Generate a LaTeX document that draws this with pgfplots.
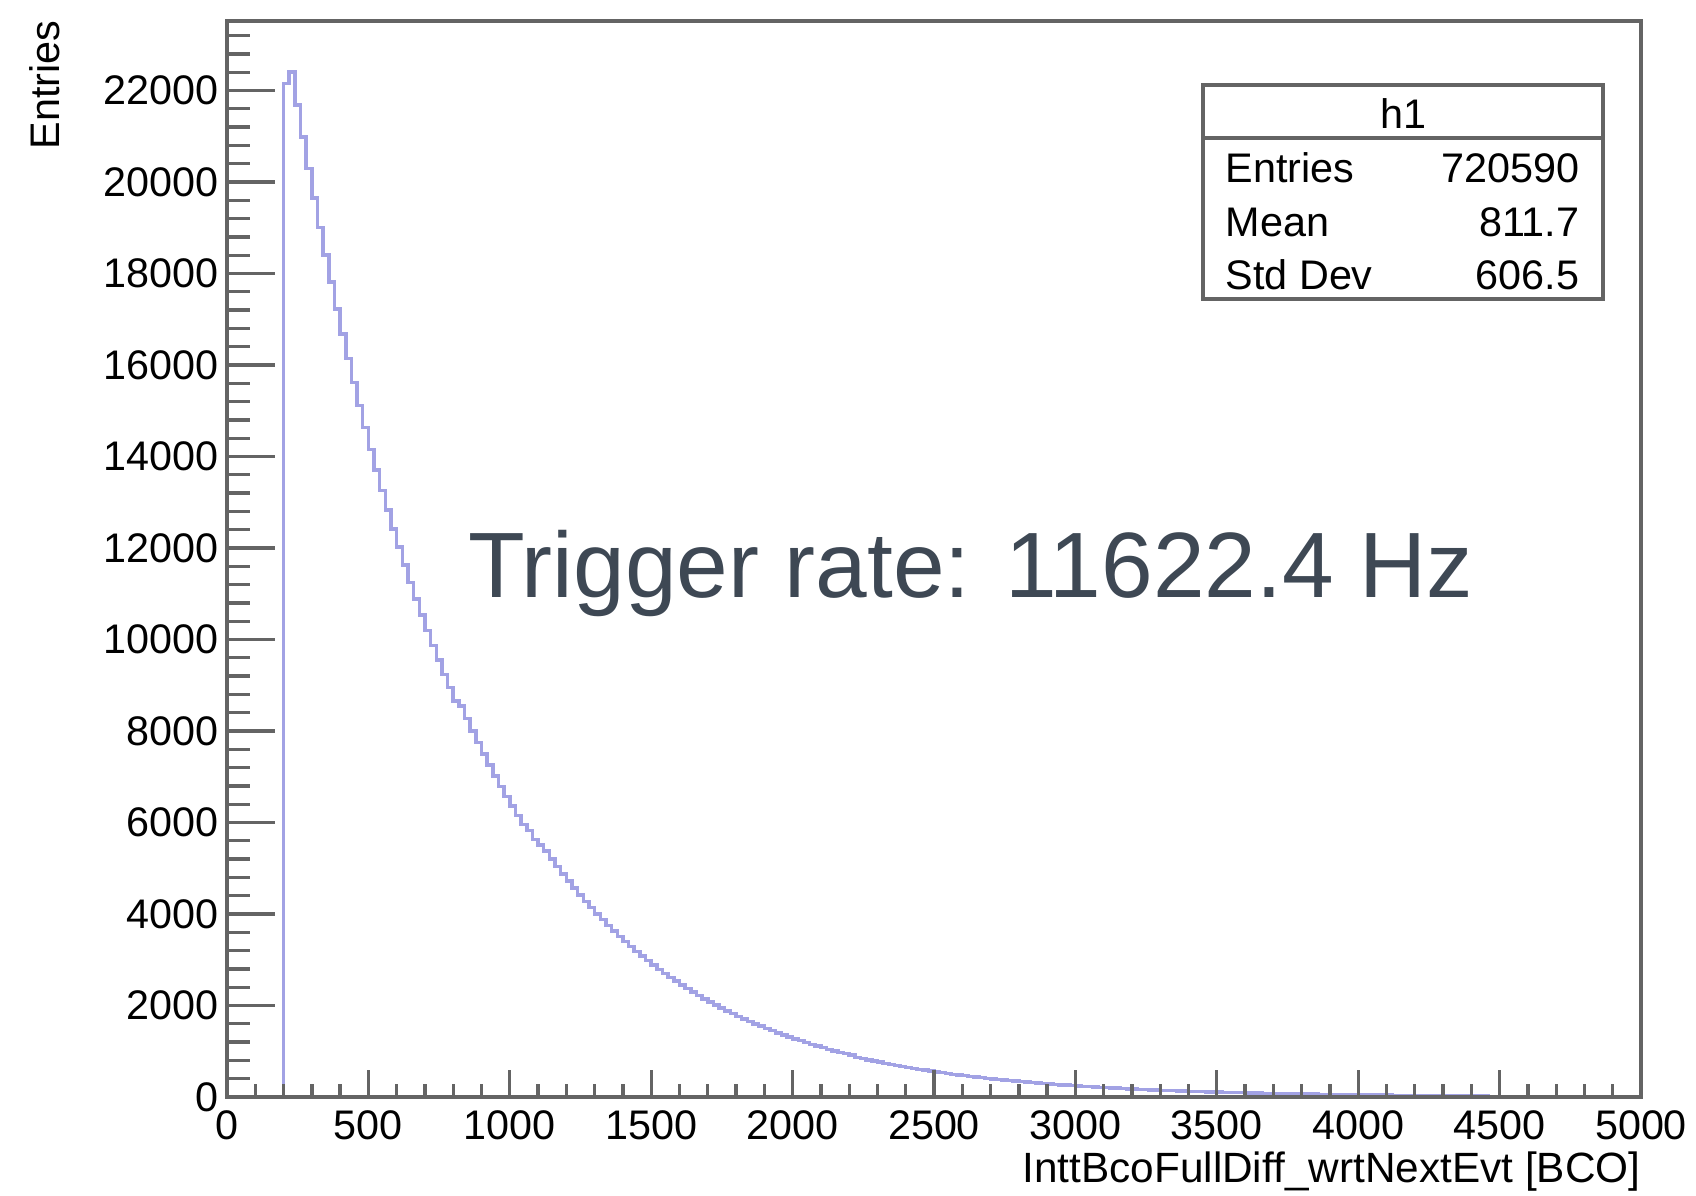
\documentclass[border=0pt]{standalone}
\usepackage{fontspec}
\setmainfont{Liberation Sans}
\usepackage{pgfplots}
\pgfplotsset{compat=1.18}
\usepackage{pgfplotstable}
\definecolor{framecol}{RGB}{100,100,100}
\definecolor{histcol}{RGB}{162,162,228}
\definecolor{annotcol}{RGB}{62,72,84}

\pgfplotstableread{
x y
0 0
200 22150
220 22400
240 21680
260 20980
280 20300
300 19650
320 19010
340 18400
360 17810
380 17230
400 16680
420 16140
440 15620
460 15110
480 14630
500 14150
520 13700
540 13260
560 12830
580 12420
600 12020
620 11630
640 11250
660 10890
680 10540
700 10200
720 9870
740 9550
760 9240
780 8950
800 8660
820 8545
840 8269
860 8002
880 7744
900 7494
920 7252
940 7019
960 6792
980 6573
1000 6361
1020 6156
1040 5957
1060 5822
1080 5634
1100 5505
1120 5379
1140 5205
1160 5037
1180 4875
1200 4718
1220 4565
1240 4418
1260 4276
1280 4138
1300 4005
1320 3876
1340 3751
1360 3629
1380 3512
1400 3399
1420 3290
1440 3184
1460 3081
1480 2981
1500 2885
1520 2792
1540 2702
1560 2615
1580 2531
1600 2449
1620 2370
1640 2293
1660 2220
1680 2148
1700 2079
1720 2012
1740 1947
1760 1884
1780 1823
1800 1764
1820 1707
1840 1653
1860 1599
1880 1548
1900 1497
1920 1449
1940 1403
1960 1358
1980 1314
2000 1272
2020 1231
2040 1191
2060 1152
2080 1115
2100 1079
2120 1044
2140 1010
2160 978
2180 946
2200 916
2220 869
2240 842
2260 814
2280 788
2300 762
2320 737
2340 714
2360 691
2380 668
2400 647
2420 626
2440 606
2460 586
2480 568
2500 549
2520 531
2540 514
2560 497
2580 482
2600 466
2620 451
2640 437
2660 422
2680 409
2700 396
2720 383
2740 371
2760 358
2780 347
2800 336
2820 324
2840 314
2860 304
2880 295
2900 285
2920 276
2940 267
2960 259
2980 250
3000 242
3020 234
3040 227
3060 219
3080 212
3100 205
3120 199
3140 193
3160 186
3180 180
3200 174
3220 169
3240 164
3260 158
3280 152
3300 148
3320 143
3340 139
3360 134
3380 130
3400 126
3420 122
3440 117
3460 114
3480 110
3500 107
3520 103
3540 100
3560 97
3580 94
3600 91
3620 88
3640 84
3660 82
3680 79
3700 77
3720 74
3740 72
3760 70
3780 67
3800 65
3820 63
3840 61
3860 59
3880 57
3900 56
3920 54
3940 52
3960 49
3980 48
4000 46
4020 45
4040 44
4060 42
4080 41
4100 39
4120 38
4140 37
4160 36
4180 35
4200 34
4220 33
4240 32
4260 31
4280 30
4300 29
4320 28
4340 27
4360 26
4380 25
4400 24
4420 23
4440 22
4460 0
5000 0
}\histdata

\begin{document}
\begin{tikzpicture}
\begin{axis}[
  name=ax,
  scale only axis,
  width=424.2pt, height=322.8pt,
  xmin=0, xmax=5000, ymin=0, ymax=23520,
  axis on top,
  axis line style={framecol, line width=1pt},
  every tick/.style={framecol, line width=1pt},
  tick align=inside,
  xtick pos=bottom, ytick pos=left,
  xtick={0,500,...,5000},
  ytick={0,2000,...,22000},
  minor xtick={0,100,...,5000},
  minor ytick={0,400,...,23200},
  xtick style={/pgfplots/major tick length=8pt,/pgfplots/minor tick length=3.8pt},
  ytick style={/pgfplots/major tick length=14.4pt,/pgfplots/minor tick length=6.8pt},
  scaled ticks=false,
  tick label style={font=\fontsize{12.4}{14}\selectfont,
    /pgf/number format/assume math mode=true,
    /pgf/number format/set thousands separator={}},
  yticklabel style={xshift=1.1pt},
  xticklabel style={yshift=-0.6pt},
  xlabel={InttBcoFullDiff\_wrtNextEvt [BCO]},
  ylabel={Entries},
  label style={inner sep=0pt},
  xlabel style={font=\fontsize{12.7}{14}\selectfont, at={([yshift=-25.5pt]rel axis cs:1,0)}, anchor=base east},
  ylabel style={font=\fontsize{12.4}{14}\selectfont, at={([xshift=-54.6pt,yshift=0.3pt]rel axis cs:0,1)}, anchor=east},
]
\addplot[const plot mark left, draw=histcol, line width=1.05pt] table[x=x,y=y] {\histdata};

\draw[framecol, line width=1pt, fill=white] (rel axis cs:0.6902,0.7416) rectangle (rel axis cs:0.9731,0.9405);
\draw[framecol, line width=1pt] (rel axis cs:0.6902,0.8913) -- (rel axis cs:0.9731,0.8913);
\node[anchor=center, inner sep=0pt, font=\fontsize{12.4}{14}\selectfont] at (rel axis cs:0.8317,0.9138) {h1};
\node[anchor=west, inner sep=0pt, font=\fontsize{12.4}{14}\selectfont] at (rel axis cs:0.7058,0.8635) {Entries};
\node[anchor=east, inner sep=0pt, font=\fontsize{12.4}{14}\selectfont] at (rel axis cs:0.9569,0.8635) {720590};
\node[anchor=west, inner sep=0pt, font=\fontsize{12.4}{14}\selectfont] at (rel axis cs:0.7058,0.8126) {Mean};
\node[anchor=east, inner sep=0pt, font=\fontsize{12.4}{14}\selectfont] at (rel axis cs:0.9569,0.8126) {811.7};
\node[anchor=west, inner sep=0pt, font=\fontsize{12.4}{14}\selectfont] at (rel axis cs:0.7058,0.7640) {Std Dev};
\node[anchor=east, inner sep=0pt, font=\fontsize{12.4}{14}\selectfont] at (rel axis cs:0.9569,0.7640) {606.5};

\node[anchor=base west, inner sep=0pt, text=annotcol, font=\fontsize{27.85}{30}\selectfont] at (rel axis cs:0.1704,0.4638) {Trigger rate: 11622.4 Hz};
\end{axis}
\pgfresetboundingbox
\path[use as bounding box] ([xshift=-68.1pt,yshift=-29.4pt]ax.south west) rectangle ([xshift=16.5pt,yshift=6.3pt]ax.north east);
\end{tikzpicture}
\end{document}
